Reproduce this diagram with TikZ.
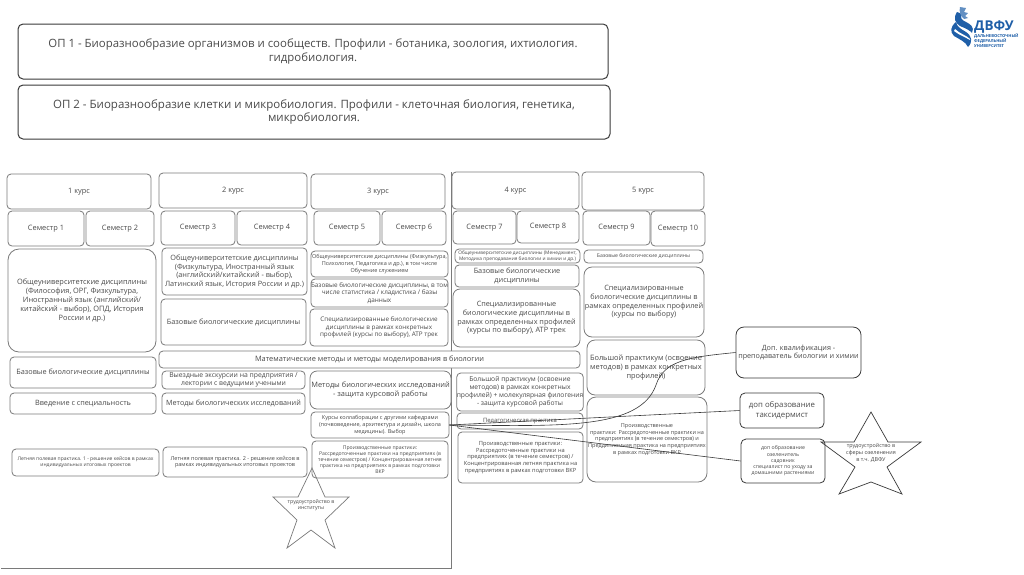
\documentclass[tikz,border=0pt]{standalone}
\usepackage{fontspec}
\setmainfont{Open Sans}
\definecolor{boxline}{HTML}{7A7A7A}
\definecolor{darkline}{HTML}{3A3A3A}
\definecolor{txt}{HTML}{4A4A4A}
\definecolor{dvfu}{HTML}{1F5FA8}
\tikzset{
  x=1pt,y=-1pt,
  rbox/.style={draw=boxline,line width=0.8pt,rounded corners=4pt,text=txt,align=center,inner sep=0pt,fill=white},
  bigbox/.style={rbox,draw=darkline,line width=1pt,rounded corners=5pt},
  link/.style={draw=darkline,line width=0.6pt},
  starline/.style={draw=boxline,line width=0.7pt,line join=miter},
  lbl/.style={text=txt,align=center,inner sep=0pt},
}
% name, x1,y1,x2,y2, font size, text, extra style
\newcommand{\bx}[8][]{%
  \pgfmathsetmacro{\bxw}{#5-#3}\pgfmathsetmacro{\bxh}{#6-#4}\pgfmathsetmacro{\bxl}{#7*1.2}%
  \node[rbox,#1,minimum width=\bxw pt,minimum height=\bxh pt,font=\fontsize{#7}{\bxl}\selectfont] (#2) at ({(#3+#5)/2},{(#4+#6)/2}) {#8};}
\begin{document}
\begin{tikzpicture}
\useasboundingbox (0,0) rectangle (1024,574);
\fill[white] (0,0) rectangle (1024,574);
% page lines
\draw[boxline,line width=0.5pt] (451.5,172) -- (451.5,568) -- (1,568);
% programme boxes
\bx[bigbox]{op1}{18}{24}{608}{79}{11.4}{ОП 1 - Биоразнообразие организмов и сообществ. Профили - ботаника, зоология, ихтиология.\\гидробиология.}
\bx[bigbox]{op2}{18}{85}{610}{139}{11.5}{ОП 2 - Биоразнообразие клетки и микробиология. Профили - клеточная биология, генетика,\\микробиология.}
% courses
\bx{c1}{7}{174}{151}{209}{7.4}{1 курс}
\bx{c2}{159}{173}{307}{208}{7.4}{2 курс}
\bx{c3}{311}{174}{445}{209}{7.4}{3 курс}
\bx{c4}{452}{172}{579}{209}{7.4}{4 курс}
\bx{c5}{582}{172}{704}{210}{7.4}{5 курс}
% semesters
\bx{s1}{8}{211}{84}{246}{7.4}{Семестр 1}
\bx{s2}{86}{211}{154}{246}{7.4}{Семестр 2}
\bx{s3}{161}{211}{235}{245}{7.4}{Семестр 3}
\bx{s4}{237}{211}{307}{245}{7.4}{Семестр 4}
\bx{s5}{314}{211}{380}{245}{7.4}{Семестр 5}
\bx{s6}{382}{211}{446}{245}{7.4}{Семестр 6}
\bx{s7}{453}{211}{516}{244}{7.4}{Семестр 7}
\bx{s8}{517}{211}{579}{243}{7.4}{Семестр 8}
\bx{s9}{583}{211}{650}{245}{7.4}{Семестр 9}
\bx{s10}{651}{211}{705}{246}{7.4}{Семестр 10}
% column 1
\bx[rounded corners=11pt]{gen1}{8}{249}{156}{352}{7.4}{Общеуниверситетские дисциплины\\(Философия, ОРГ, Физкультура,\\Иностранный язык (английский/\\китайский - выбор), ОПД, История\\России и др.)}
\bx{base1}{10}{357}{156}{388}{7.3}{Базовые биологические дисциплины}
\bx{intro1}{10}{393}{156}{414}{7.3}{Введение с специальность}
\bx{sum1}{12}{449}{159}{476}{5}{Летняя полевая практика. 1 - решение кейсов в рамках\\индивидуальных итоговых проектов}
% column 2
\bx{gen2}{162}{248}{307}{295}{7.3}{Общеуниверситетские дисциплины\\(Физкультура, Иностранный язык\\(английский/китайский - выбор),\\Латинский язык, История России и др.)}
\bx{base2}{161}{299}{306}{345}{7.3}{Базовые биологические дисциплины}
\bx{math}{159}{351}{580}{368}{7.4}{Математические методы и методы моделирования  в биологии}
\bx{trip}{162}{371}{305}{389}{6.8}{Выездные экскурсии на предприятия /\\лектории с ведущими учеными}
\bx{meth2}{162}{393}{305}{414}{7.2}{Методы биологических исследований}
\bx{sum2}{163}{447}{307}{477}{5.5}{Летняя полевая практика. 2 - решение кейсов в\\рамках индивидуальных итоговых проектов}
% column 3
\bx{gen3}{311}{251}{448}{277}{5.5}{Общеуниверситетские дисциплины (Физкультура,\\Психология, Педагогика и др.), в том числе\\Обучение служением}
\bx{base3}{311}{279}{448}{307}{6.4}{Базовые биологические дисциплины, в том\\числе статистика / кладистика / базы\\данных}
\bx{spec3}{310}{309}{448}{346}{6.3}{Специализированные биологические\\дисциплины в рамках конкретных\\профилей (курсы по выбору), АТР трек}
\bx[rounded corners=7pt]{meth3}{310}{371}{451}{409}{7.4}{Методы биологических исследований\\- защита курсовой работы}
\bx{kurs}{311}{412}{449}{438}{5.5}{Курсы коллаборации с другими кафедрами\\(почвоведение, архитектура и дизайн, школа\\медицины). Выбор}
\bx{prac3}{312}{441}{448}{478}{5.1}{Производственные практики:\\Рассредоточенные практики на предприятиях (в\\течение семестров) / Концентрированная летняя\\практика на предприятиях в рамках подготовки\\ВКР}
% column 4
\bx{gen4}{455}{249}{580}{263}{4.8}{Общеуниверситетские дисциплины (Менеджмент,\\Методика преподавания биологии и химии и др.)}
\bx{base4}{455}{265}{579}{287}{7.3}{Базовые биологические\\дисциплины}
\bx[rounded corners=7pt]{spec4}{453}{289}{580}{347}{7.3}{Специализированные\\биологические дисциплины в\\рамках определенных профилей\\(курсы по выбору), АТР трек}
\bx{big4}{457}{373}{583}{411}{6.7}{Большой практикум (освоение\\методов) в рамках конкретных\\профилей) + молекулярная филогения\\- защита курсовой работы}
\bx{ped}{457}{413}{583}{429}{5.9}{Педагогическая практика}
\bx{prac4}{458}{432}{583}{483}{5.7}{Производственные практики:\\Рассредоточенные практики на\\предприятиях (в течение семестров) /\\Концентрированная летняя практика на\\предприятиях в рамках подготовки  ВКР}
% column 5
\bx{base5}{584}{250}{703}{263}{5.1}{Базовые биологические дисциплины}
\bx[rounded corners=8pt]{spec5}{584}{267}{704}{337}{7.3}{Специализированные\\биологические дисциплины в\\рамках определенных профилей\\(курсы по выбору)}
\bx[rounded corners=8pt]{big5}{587}{340}{705}{395}{7.4}{Большой практикум (освоение\\методов) в рамках конкретных\\профилей)}
\bx[rounded corners=9pt]{prac5}{587}{397}{707}{482}{5.5}{Производственные\\практики: Рассредоточенные практики на\\предприятиях (в течение семестров) и\\Преддипломная практика на предприятиях\\в рамках подготовки  ВКР}
% extras
\bx[rounded corners=8pt,draw=darkline]{dop}{736}{327}{861}{378}{7.2}{Доп. квалификация -\\преподаватель биологии и химии}
\bx[rounded corners=5pt,draw=darkline]{tax}{740}{393}{824}{428}{7.8}{доп образование\\таксидермист}
\bx[rounded corners=5pt,draw=darkline]{ozel}{741}{439}{825}{483}{5.2}{доп образование\\озеленитель\\садовник\\специалист по уходу за\\домашними растениями}
% connectors
\draw[link] (kurs.east) -- (tax.west);
\draw[link] (kurs.east) -- (ozel.west);
\draw[link] (kurs.east) .. controls (560,426) and (640,430) .. (656,385) .. controls (664,360) and (690,357) .. (dop.west);
% stars
\draw[starline] (312,468)--(325,497)--(349,497)--(325,520)--(335,548)--(311,530)--(287,548)--(297,520)--(273,497)--(298,497)--cycle;
\node[lbl,font=\fontsize{5.2}{6.4}\selectfont] (st1) at (311,505) {трудоустройство в\\институты};
\draw[starline,draw=darkline] (871,412)--(888,442)--(921,442)--(887,467)--(902,494)--(871,482)--(839,494)--(855,467)--(821,442)--(854,442)--cycle;
\node[lbl,font=\fontsize{5.4}{6.6}\selectfont] (st2) at (871,453) {трудоустройство в\\сферы озеленения\\в т.ч. ДВФУ};
% logo
\fill[dvfu] (956,22) .. controls (950,27) and (950,32) .. (954,36) .. controls (959,39) and (966,42) .. (968,47) .. controls (973,42) and (972,36) .. (966,32) .. controls (961,29) and (957,27) .. (956,22) -- cycle;
\fill[white] (955,29) .. controls (960,34) and (966,35) .. (970,39) -- (970,40) .. controls (965,37) and (959,35) .. (954,31) -- cycle;
\fill[dvfu] (957,12) .. controls (953,18) and (955,23) .. (960,26) .. controls (965,28) and (971,31) .. (972,33) .. controls (975,27) and (970,24) .. (966,22) .. controls (961,20) and (960,17) .. (962,14) -- cycle;
\fill[dvfu!70] (960,7) -- (966,8) -- (964,12) -- (968,13) -- (965,16) -- (968,18) -- (964,19) .. controls (960,16) and (959,11) .. (960,7) -- cycle;
\node[anchor=west,inner sep=0pt,font=\fontsize{13.5}{13.5}\selectfont\bfseries,text=dvfu] (lg1) at (974,27.5) {ДВФУ};
\node[anchor=north west,inner sep=0pt,align=left,font=\fontsize{4.1}{4.8}\selectfont\bfseries,text=dvfu] (lg2) at (974,33.5) {ДАЛЬНЕВОСТОЧНЫЙ\\ФЕДЕРАЛЬНЫЙ\\УНИВЕРСИТЕТ};
\end{tikzpicture}
\end{document}
